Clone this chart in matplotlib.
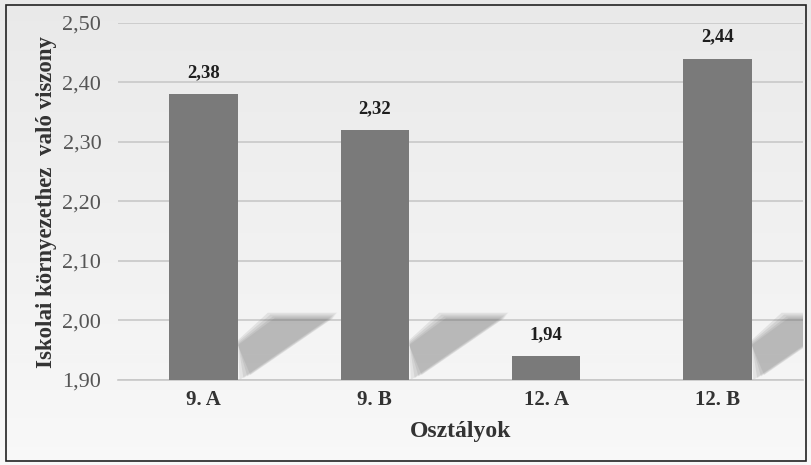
import numpy as np
import matplotlib.pyplot as plt
from matplotlib.patches import Rectangle, Polygon

classes = ['9. A', '9. B', '12. A', '12. B']
scores = [2.38, 2.32, 1.94, 2.44]
yticks = [1.90, 2.00, 2.10, 2.20, 2.30, 2.40, 2.50]

plt.rcParams['font.family'] = ['Liberation Serif', 'DejaVu Serif']

fig = plt.figure(figsize=(8.12, 4.65), dpi=100)

# light background gradient over the whole figure (darker at the top)
bg = fig.add_axes([0, 0, 1, 1], zorder=-10)
shade = np.linspace(0.975, 0.915, 256).reshape(-1, 1)
shade[:60] = np.linspace(0.975, 0.96, 60).reshape(-1, 1)
img = np.dstack([shade, shade, shade])
bg.imshow(img, aspect='auto', extent=[0, 1, 0, 1], origin='lower')
bg.set_xlim(0, 1)
bg.set_ylim(0, 1)
bg.set_axis_off()
bg.add_patch(Rectangle((0.008, 0.008), 0.984, 0.981, fill=False,
                       edgecolor='#222222', linewidth=1.2,
                       transform=bg.transAxes))

ax = fig.add_axes([118 / 812, 1 - 380 / 465, 685 / 812, 357 / 465])
ax.patch.set_alpha(0)
x = np.arange(len(classes))
width = 0.4
ax.bar(x, [s - 1.90 for s in scores], width, bottom=1.90,
       color='#7a7a7a', zorder=3)

# blurred floor shadows to the right of the taller bars
for xi, s in zip(x, scores):
    if s - 1.90 <= 0.1:
        continue
    x0 = xi + width / 2
    for shrink in [0.0, 0.25, 0.5, 0.7]:
        sx = 0.06 * shrink
        sy = 0.012 * shrink
        poly = Polygon([(x0, 1.967 - sy), (x0 + 0.175 + sx, 2.013 - sy),
                        (x0 + 0.58 - sx * 0.5, 2.013 - sy),
                        (x0 + 0.01 + sx * 1.5, 1.90 + sy)],
                       closed=True, facecolor='#6a6a6a', edgecolor='none',
                       alpha=0.13, zorder=2)
        ax.add_patch(poly)

for xi, s in zip(x, scores):
    ax.text(xi, s + 0.022, f'{s:.2f}'.replace('.', ','), ha='center',
            va='bottom', fontsize=13.5, fontweight='bold', color='#1e1e1e')

ax.set_xlim(-0.5, 3.5)
ax.set_ylim(1.90, 2.50)
ax.set_yticks(yticks)
ax.set_yticklabels([f'{t:.2f}'.replace('.', ',') for t in yticks],
                   fontsize=16, color='#555555')
ax.set_xticks(x)
ax.set_xticklabels(classes, fontsize=15, fontweight='bold', color='#333333')
ax.tick_params(axis='y', length=0, pad=12)
ax.tick_params(axis='x', length=0, pad=7)
ax.grid(axis='y', color='#c8c8c8', linewidth=1.2, zorder=1)
for sp in ['top', 'right', 'left']:
    ax.spines[sp].set_visible(False)
ax.spines['bottom'].set_color('#c8c8c8')
ax.spines['bottom'].set_linewidth(1.2)

ax.set_xlabel('Osztályok', fontsize=17, fontweight='bold', color='#333333',
              labelpad=8)
ax.set_ylabel('Iskolai környezethez  való viszony', fontsize=16.5,
              fontweight='bold', color='#333333', labelpad=4)

fig.savefig('out.png', dpi=100)
